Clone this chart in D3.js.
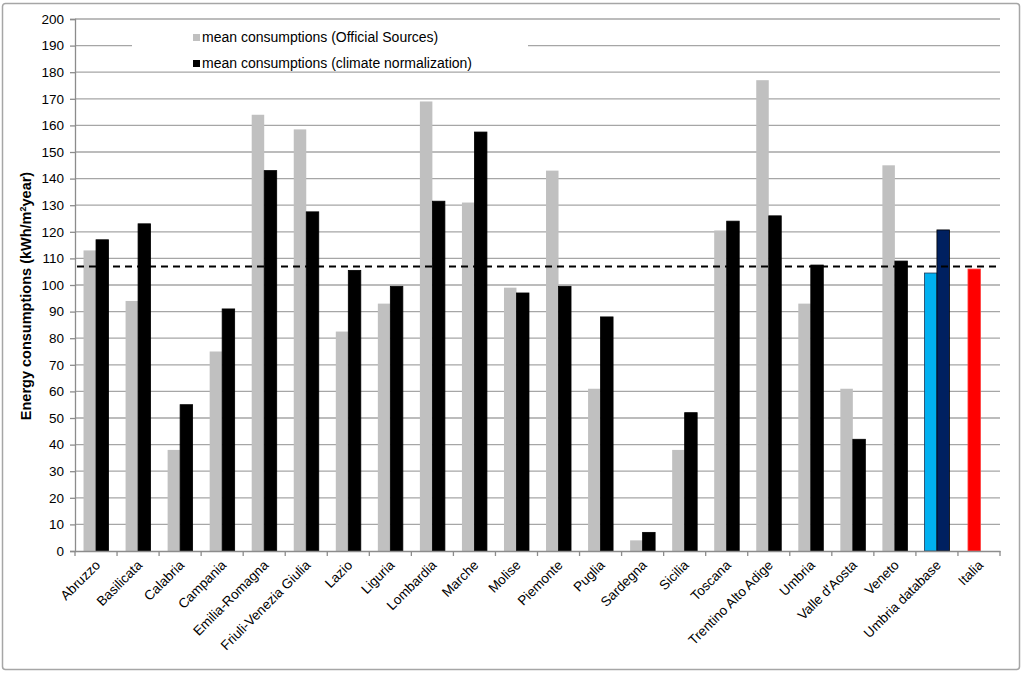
<!DOCTYPE html>
<html>
<head>
<meta charset="utf-8">
<script src="https://cdn.jsdelivr.net/npm/d3@7"></script>
<style>
body { margin: 0; background: #fff; }
svg text { font-family: "Liberation Sans", Arial, sans-serif; }
</style>
</head>
<body>
<div id="chart"></div>
<script>
// regions
var categories = ["Abruzzo", "Basilicata", "Calabria", "Campania", "Emilia-Romagna",
  "Friuli-Venezia Giulia", "Lazio", "Liguria", "Lombardia", "Marche", "Molise",
  "Piemonte", "Puglia", "Sardegna", "Sicilia", "Toscana", "Trentino Alto Adige",
  "Umbria", "Valle d'Aosta", "Veneto", "Umbria database", "Italia"];

// mean consumptions (Official Sources)
var official = [113, 94, 38, 75, 164, 158.5, 82.5, 93, 169, 131, 99, 143, 61, 4, 38, 120.5, 177, 93, 61, 145];
// mean consumptions (climate normalization)
var normalized = [117, 123, 55, 91, 143, 127.5, 105.5, 99.5, 131.5, 157.5, 97, 99.5, 88, 7, 52, 124, 126, 107.5, 42, 109];
// Umbria database (two values) and Italia
var umbriaDb = [104.5, 120.7];
var italia = [106];
var meanLine = 107;

var yTicks = d3.range(0, 201, 10);
var legendLabels = ["mean consumptions (Official Sources)", "mean consumptions (climate normalization)"];

var width = 1024, height = 674;
var plotLeft = 75, plotRight = 1000, plotTop = 19, plotBottom = 551;

var svg = d3.select("#chart").append("svg")
  .attr("width", width)
  .attr("height", height);

// outer frame
svg.append("rect")
  .attr("x", 2.5).attr("y", 3.5)
  .attr("width", 1017).attr("height", 666)
  .attr("rx", 3)
  .attr("fill", "#fff")
  .attr("stroke", "#a6a6a6")
  .attr("stroke-width", 1.5);

var x = d3.scaleBand().domain(categories).range([plotLeft, plotRight]);
var slot = d3.scaleBand().domain([0, 1]).range([-12.5, 12.5]);
var y = d3.scaleLinear().domain([0, 200]).range([plotBottom, plotTop]);

// gridlines
svg.append("g")
  .selectAll("line")
  .data(yTicks.filter(function(d){ return d > 0; }))
  .enter().append("line")
  .attr("x1", plotLeft).attr("x2", plotRight)
  .attr("y1", function(d){ return y(d); })
  .attr("y2", function(d){ return y(d); })
  .attr("stroke", "#a6a6a6")
  .attr("stroke-width", 1.3);

// bar rows: [category, value, slot, fill, stroke]
var bars = [];
official.forEach(function(v, i){
  bars.push([categories[i], v, 0, "#c0c0c0", "none"]);
  bars.push([categories[i], normalized[i], 1, "#000", "#000"]);
});
bars.push([categories[20], umbriaDb[0], 0, "#00b0f0", "#1f3a5a"]);
bars.push([categories[20], umbriaDb[1], 1, "#002060", "#000"]);
bars.push([categories[21], italia[0], 0, "#ff0000", "#ff4040"]);

svg.append("g")
  .selectAll("rect")
  .data(bars)
  .enter().append("rect")
  .attr("x", function(d){
    var c = x(d[0]) + x.bandwidth() / 2 + slot(d[2]);
    if (d[0] === "Italia") c += 1.5;
    return c;
  })
  .attr("y", function(d){ return y(d[1]); })
  .attr("width", slot.bandwidth())
  .attr("height", function(d){ return y(0) - y(d[1]); })
  .attr("fill", function(d){ return d[3]; })
  .attr("stroke", function(d){ return d[4]; })
  .attr("stroke-width", 0.8);

// mean dashed line
svg.append("line")
  .attr("x1", plotLeft + 2).attr("x2", plotRight)
  .attr("y1", y(meanLine)).attr("y2", y(meanLine))
  .attr("stroke", "#000")
  .attr("stroke-width", 2)
  .attr("stroke-dasharray", "7,5");

// y axis
var axisY = d3.axisLeft(y).tickValues(yTicks).tickSize(5).tickPadding(6);
var gy = svg.append("g")
  .attr("transform", "translate(" + plotLeft + ",0)")
  .call(axisY);
gy.select(".domain").attr("stroke", "#8c8c8c").attr("stroke-width", 1.3);
gy.selectAll(".tick line").attr("stroke", "#8c8c8c").attr("stroke-width", 1.3);
gy.selectAll(".tick text")
  .attr("font-size", 13.5)
  .attr("fill", "#000")
  .style("font-family", "Liberation Sans, Arial, sans-serif");

// x axis
var axisX = d3.axisBottom(x).tickSize(0).tickFormat("");
var gx = svg.append("g")
  .attr("transform", "translate(0," + plotBottom + ")")
  .call(axisX);
gx.select(".domain").attr("stroke", "#8c8c8c").attr("stroke-width", 1.3);

// x ticks at category boundaries
svg.append("g")
  .selectAll("line")
  .data(categories.concat(["__end"]))
  .enter().append("line")
  .attr("x1", function(d, i){ return plotLeft + i * x.step(); })
  .attr("x2", function(d, i){ return plotLeft + i * x.step(); })
  .attr("y1", plotBottom).attr("y2", plotBottom + 5)
  .attr("stroke", "#8c8c8c")
  .attr("stroke-width", 1.3);

// x labels
svg.append("g")
  .selectAll("text")
  .data(categories)
  .enter().append("text")
  .attr("transform", function(d){
    return "translate(" + (x(d) + x.bandwidth() / 2 + 5) + "," + (plotBottom + 15) + ") rotate(-45)";
  })
  .attr("text-anchor", "end")
  .attr("font-size", 13.5)
  .attr("fill", "#000")
  .text(function(d){ return d; });

// y title
var yt = svg.append("text")
  .attr("transform", "translate(31,296) rotate(-90)")
  .attr("text-anchor", "middle")
  .attr("font-size", 14.5)
  .attr("font-weight", "bold")
  .attr("fill", "#000");
yt.append("tspan").text("Energy consumptions  (kWh/m");
yt.append("tspan").attr("baseline-shift", "super").attr("font-size", 9).text("2");
yt.append("tspan").text("year)");

// legend
svg.append("rect")
  .attr("x", 132).attr("y", 24)
  .attr("width", 396).attr("height", 46)
  .attr("fill", "#fff");

var leg = svg.append("g")
  .selectAll("g")
  .data(legendLabels)
  .enter().append("g")
  .attr("transform", function(d, i){ return "translate(193," + (37.5 + i * 26) + ")"; });
leg.append("rect")
  .attr("x", 0).attr("y", -3.5)
  .attr("width", 7).attr("height", 7)
  .attr("fill", function(d, i){ return i === 0 ? "#c0c0c0" : "#000"; });
leg.append("text")
  .attr("x", 9).attr("dy", "0.35em")
  .attr("font-size", 14)
  .attr("fill", "#000")
  .text(function(d){ return d; });
</script>
</body>
</html>
